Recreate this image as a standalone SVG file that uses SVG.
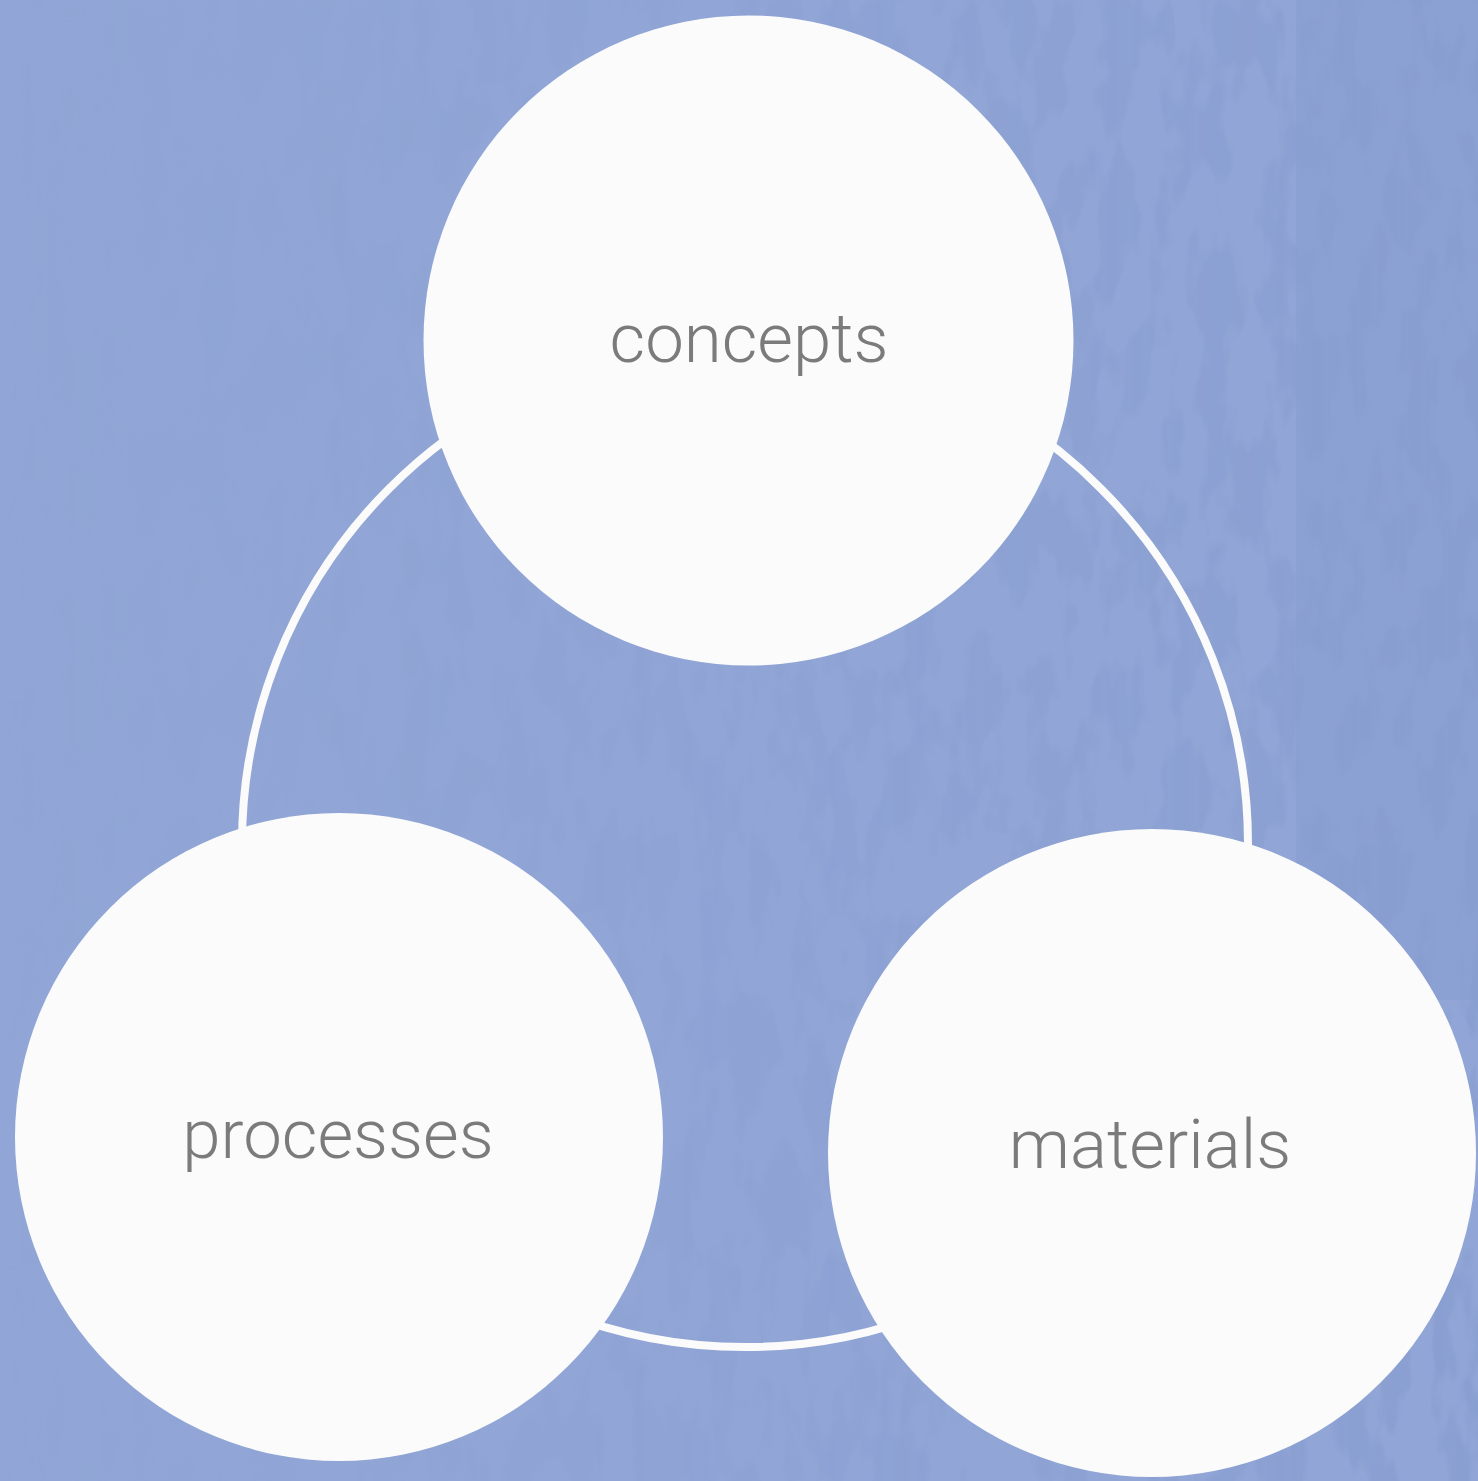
<svg xmlns="http://www.w3.org/2000/svg" width="1478" height="1481" viewBox="0 0 1478 1481">
  <style>
    .bubble { fill: #fbfbfb; }
    .label { font-family: "Roboto", "Liberation Sans", sans-serif; font-weight: 300; font-size: 69px; fill: #7b7b7b; text-anchor: middle; }
    .ring { fill: none; stroke: #fbfbfb; stroke-width: 8; }
  </style>
  <defs>
    <!-- faint darker blotches on the paper -->
    <filter id="mottle" x="0" y="0" width="100%" height="100%" color-interpolation-filters="sRGB">
      <feTurbulence type="fractalNoise" baseFrequency="0.03 0.012" numOctaves="3" seed="7" result="n"/>
      <feColorMatrix in="n" type="matrix" values="0 0 0 0 0.53  0 0 0 0 0.61  0 0 0 0 0.81  0 0 0 -8 4.3"/>
    </filter>
    <linearGradient id="fadeX" x1="0" y1="0" x2="1" y2="0">
      <stop offset="0" stop-color="#fff" stop-opacity="0"/>
      <stop offset="0.35" stop-color="#fff" stop-opacity="0.15"/>
      <stop offset="0.85" stop-color="#fff" stop-opacity="0.5"/>
      <stop offset="1" stop-color="#fff" stop-opacity="0.7"/>
    </linearGradient>
    <mask id="fade">
      <rect width="1478" height="1481" fill="url(#fadeX)"/>
    </mask>
  </defs>
  <!-- paper background -->
  <rect width="1478" height="1481" fill="#91a6d6"/>
  <rect x="1296" y="0" width="182" height="1000" fill="#899ed1" opacity="0.6"/>
  <rect width="1478" height="1481" filter="url(#mottle)" mask="url(#fade)"/>

  <!-- connecting cycle -->
  <g id="connectors">
    <circle class="ring" cx="745" cy="844" r="503"/>
  </g>

  <g id="concepts">
    <circle class="bubble" cx="748.5" cy="340.5" r="325"/>
    <text class="label" x="749" y="362">concepts</text>
  </g>
  <g id="processes">
    <circle class="bubble" cx="339" cy="1137" r="324"/>
    <text class="label" x="338" y="1158">processes</text>
  </g>
  <g id="materials">
    <circle class="bubble" cx="1152" cy="1153" r="324"/>
    <text class="label" x="1150" y="1168">materials</text>
  </g>
</svg>
